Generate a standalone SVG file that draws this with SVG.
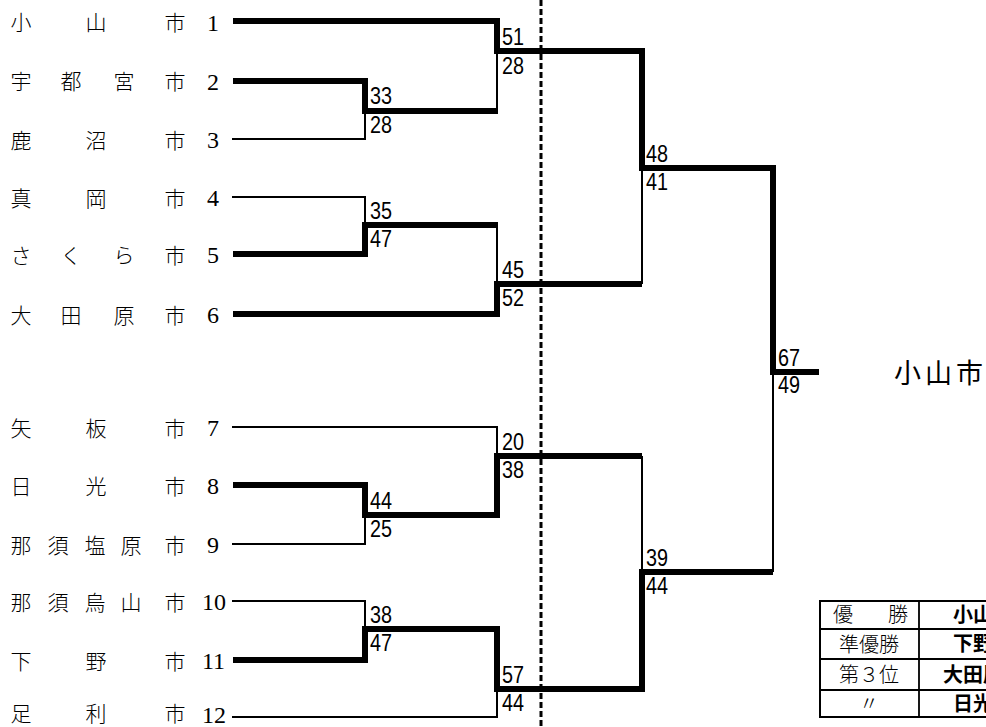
<svg xmlns="http://www.w3.org/2000/svg" width="986" height="727" viewBox="0 0 986 727">
<style>
.nm{font-family:"Noto Sans CJK JP","Noto Sans CJK SC",sans-serif;font-size:21px;font-weight:300;fill:#000;text-anchor:middle}
.no{font-family:"Liberation Serif",serif;font-size:24px;fill:#000}
.sc{font-family:"Liberation Sans",Arial,sans-serif;font-size:24px;fill:#000}
.th{fill:none;stroke:#000;stroke-width:6;stroke-linejoin:miter;stroke-linecap:butt}
.tn{fill:none;stroke:#000;stroke-width:1.3;shape-rendering:crispEdges}
.tl{font-family:"Noto Sans CJK JP",sans-serif;font-size:20px;font-weight:300;fill:#000;text-anchor:middle}
.tr{font-family:"Noto Sans CJK JP",sans-serif;font-size:20px;font-weight:700;fill:#000;text-anchor:middle}
</style>
<rect width="986" height="727" fill="#fff"/>

<g id="team-1"><text class="nm" x="21" y="30">小</text><text class="nm" x="96" y="30">山</text><text class="nm" x="175" y="30">市</text><text class="no" x="207" y="31">1</text></g>
<g id="team-2"><text class="nm" x="21" y="89">宇</text><text class="nm" x="71" y="89">都</text><text class="nm" x="124" y="89">宮</text><text class="nm" x="175" y="89">市</text><text class="no" x="207" y="90">2</text></g>
<g id="team-3"><text class="nm" x="21" y="148">鹿</text><text class="nm" x="96" y="148">沼</text><text class="nm" x="175" y="148">市</text><text class="no" x="207" y="148">3</text></g>
<g id="team-4"><text class="nm" x="21" y="206">真</text><text class="nm" x="96" y="206">岡</text><text class="nm" x="175" y="206">市</text><text class="no" x="207" y="206">4</text></g>
<g id="team-5"><text class="nm" x="21" y="263">さ</text><text class="nm" x="71" y="263">く</text><text class="nm" x="124" y="263">ら</text><text class="nm" x="175" y="263">市</text><text class="no" x="207" y="263">5</text></g>
<g id="team-6"><text class="nm" x="21" y="323">大</text><text class="nm" x="71" y="323">田</text><text class="nm" x="124" y="323">原</text><text class="nm" x="175" y="323">市</text><text class="no" x="207" y="323">6</text></g>
<g id="team-7"><text class="nm" x="21" y="436">矢</text><text class="nm" x="96" y="436">板</text><text class="nm" x="175" y="436">市</text><text class="no" x="207" y="436">7</text></g>
<g id="team-8"><text class="nm" x="21" y="494">日</text><text class="nm" x="96" y="494">光</text><text class="nm" x="175" y="494">市</text><text class="no" x="207" y="494">8</text></g>
<g id="team-9"><text class="nm" x="21" y="553">那</text><text class="nm" x="58" y="553">須</text><text class="nm" x="95" y="553">塩</text><text class="nm" x="131" y="553">原</text><text class="nm" x="175" y="553">市</text><text class="no" x="207" y="553">9</text></g>
<g id="team-10"><text class="nm" x="21" y="610">那</text><text class="nm" x="58" y="610">須</text><text class="nm" x="95" y="610">烏</text><text class="nm" x="131" y="610">山</text><text class="nm" x="175" y="610">市</text><text class="no" x="202" y="610">10</text></g>
<g id="team-11"><text class="nm" x="21" y="669">下</text><text class="nm" x="96" y="669">野</text><text class="nm" x="175" y="669">市</text><text class="no" x="202" y="669">11</text></g>
<g id="team-12"><text class="nm" x="21" y="721">足</text><text class="nm" x="96" y="721">利</text><text class="nm" x="175" y="721">市</text><text class="no" x="202" y="723">12</text></g>

<g id="connectors">
<line x1="541" y1="0" x2="541" y2="727" stroke="#000" stroke-width="3" stroke-dasharray="6 3"/>
<path class="tn" d="M232,139 H365 V111"/>
<path class="tn" d="M497,111 V51"/>
<path class="tn" d="M232,197 H365 V225"/>
<path class="tn" d="M497,225 V284"/>
<path class="tn" d="M642,284 V168"/>
<path class="tn" d="M232,427 H497 V456"/>
<path class="tn" d="M232,544 H365 V515"/>
<path class="tn" d="M232,601 H365 V629"/>
<path class="tn" d="M232,717 H497 V689"/>
<path class="tn" d="M642,456 V572"/>
<path class="tn" d="M773,372 V572"/>
<path class="th" d="M233,21 H497 V51 H642 V168 H773 V372 H819"/>
<path class="th" d="M233,81 H365 V111 H498"/>
<path class="th" d="M233,254 H365 V225 H498"/>
<path class="th" d="M233,314 H497 V284 H642"/>
<path class="th" d="M233,485 H365 V515 H497 V456 H642"/>
<path class="th" d="M233,660 H365 V629 H497 V689 H642 V572 H773"/>
</g>

<g id="scores">
<text class="sc" x="370" y="104" textLength="22" lengthAdjust="spacingAndGlyphs">33</text>
<text class="sc" x="370" y="133" textLength="22" lengthAdjust="spacingAndGlyphs">28</text>
<text class="sc" x="502" y="45" textLength="22" lengthAdjust="spacingAndGlyphs">51</text>
<text class="sc" x="502" y="74" textLength="22" lengthAdjust="spacingAndGlyphs">28</text>
<text class="sc" x="370" y="219" textLength="22" lengthAdjust="spacingAndGlyphs">35</text>
<text class="sc" x="370" y="247" textLength="22" lengthAdjust="spacingAndGlyphs">47</text>
<text class="sc" x="502" y="278" textLength="22" lengthAdjust="spacingAndGlyphs">45</text>
<text class="sc" x="502" y="306" textLength="22" lengthAdjust="spacingAndGlyphs">52</text>
<text class="sc" x="646" y="162" textLength="22" lengthAdjust="spacingAndGlyphs">48</text>
<text class="sc" x="646" y="190" textLength="22" lengthAdjust="spacingAndGlyphs">41</text>
<text class="sc" x="778" y="366" textLength="22" lengthAdjust="spacingAndGlyphs">67</text>
<text class="sc" x="778" y="393" textLength="22" lengthAdjust="spacingAndGlyphs">49</text>
<text class="sc" x="502" y="450" textLength="22" lengthAdjust="spacingAndGlyphs">20</text>
<text class="sc" x="502" y="478" textLength="22" lengthAdjust="spacingAndGlyphs">38</text>
<text class="sc" x="370" y="509" textLength="22" lengthAdjust="spacingAndGlyphs">44</text>
<text class="sc" x="370" y="537" textLength="22" lengthAdjust="spacingAndGlyphs">25</text>
<text class="sc" x="370" y="623" textLength="22" lengthAdjust="spacingAndGlyphs">38</text>
<text class="sc" x="370" y="651" textLength="22" lengthAdjust="spacingAndGlyphs">47</text>
<text class="sc" x="502" y="683" textLength="22" lengthAdjust="spacingAndGlyphs">57</text>
<text class="sc" x="502" y="711" textLength="22" lengthAdjust="spacingAndGlyphs">44</text>
<text class="sc" x="646" y="566" textLength="22" lengthAdjust="spacingAndGlyphs">39</text>
<text class="sc" x="646" y="594" textLength="22" lengthAdjust="spacingAndGlyphs">44</text>
</g>

<g id="champion"><text x="894" y="383" font-family="'Noto Sans CJK JP',sans-serif" font-size="27" textLength="89" lengthAdjust="spacing" fill="#000">小山市</text></g>

<g id="results-table">
<rect x="820" y="601" width="240" height="116" fill="none" stroke="#000" stroke-width="2"/>
<path d="M919,601 V717 M820,629 H1060 M820,659 H1060 M820,690 H1060" stroke="#000" stroke-width="1.8" fill="none"/>
<text class="tl" x="843" y="622">優</text><text class="tl" x="898" y="622">勝</text>
<text class="tl" x="869" y="652">準優勝</text>
<text class="tl" x="869" y="682">第３位</text>
<text class="tl" x="869" y="711">〃</text>
<text class="tr" x="983" y="622">小山市</text>
<text class="tr" x="983" y="651">下野市</text>
<text class="tr" x="983" y="682">大田原市</text>
<text class="tr" x="983" y="711">日光市</text>
</g>
</svg>
